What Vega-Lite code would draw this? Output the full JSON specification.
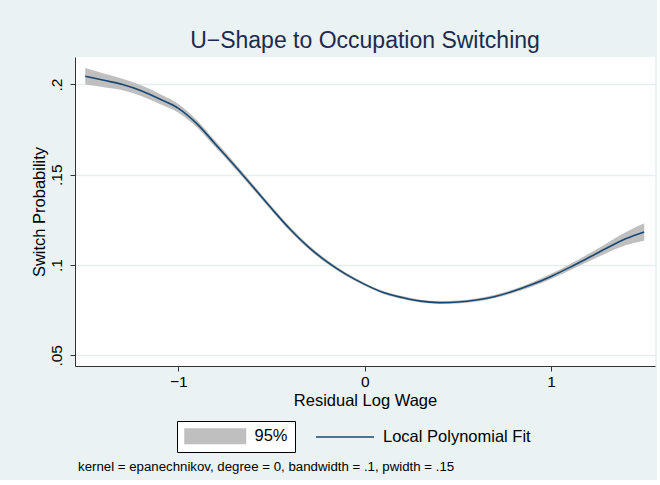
{
  "$schema": "https://vega.github.io/schema/vega-lite/v6.json",
  "background": "#eaf2f3",
  "padding": {"left": 31, "top": 30, "right": 2, "bottom": 6},
  "config": {
    "font": "Liberation Sans",
    "view": {"stroke": null, "fill": "white"},
    "concat": {"spacing": 0}
  },
  "title": {
    "text": "kernel = epanechnikov, degree = 0, bandwidth = .1, pwidth = .15",
    "orient": "bottom",
    "anchor": "start",
    "frame": "group",
    "fontSize": 13.25,
    "fontWeight": "normal",
    "color": "#000000",
    "offset": 8,
    "dx": 3
  },
  "vconcat": [
    {
      "width": 580,
      "height": 309,
      "title": {
        "text": "U−Shape to Occupation Switching",
        "fontSize": 23,
        "fontWeight": "normal",
        "color": "#1c2b4e",
        "anchor": "middle",
        "frame": "group",
        "baseline": "bottom",
        "offset": -19
      },
      "data": {
        "values": [
          {"x": -1.5, "y": 0.2046, "lo": 0.2000, "hi": 0.2092},
          {"x": -1.4, "y": 0.2023, "lo": 0.1985, "hi": 0.2061},
          {"x": -1.3, "y": 0.2000, "lo": 0.1968, "hi": 0.2032},
          {"x": -1.2, "y": 0.1966, "lo": 0.1936, "hi": 0.1996},
          {"x": -1.1, "y": 0.1920, "lo": 0.1892, "hi": 0.1948},
          {"x": -1.0, "y": 0.1868, "lo": 0.1844, "hi": 0.1892},
          {"x": -0.9, "y": 0.1782, "lo": 0.1762, "hi": 0.1802},
          {"x": -0.8, "y": 0.1668, "lo": 0.1651, "hi": 0.1685},
          {"x": -0.7, "y": 0.1553, "lo": 0.1538, "hi": 0.1568},
          {"x": -0.6, "y": 0.1434, "lo": 0.1420, "hi": 0.1448},
          {"x": -0.5, "y": 0.1313, "lo": 0.1300, "hi": 0.1326},
          {"x": -0.4, "y": 0.1198, "lo": 0.1186, "hi": 0.1210},
          {"x": -0.3, "y": 0.1098, "lo": 0.1087, "hi": 0.1109},
          {"x": -0.2, "y": 0.1016, "lo": 0.1006, "hi": 0.1026},
          {"x": -0.1, "y": 0.0948, "lo": 0.0939, "hi": 0.0957},
          {"x": 0.0, "y": 0.0893, "lo": 0.0885, "hi": 0.0901},
          {"x": 0.1, "y": 0.0848, "lo": 0.0840, "hi": 0.0856},
          {"x": 0.2, "y": 0.0820, "lo": 0.0812, "hi": 0.0828},
          {"x": 0.3, "y": 0.0800, "lo": 0.0792, "hi": 0.0808},
          {"x": 0.4, "y": 0.0792, "lo": 0.0784, "hi": 0.0800},
          {"x": 0.5, "y": 0.0795, "lo": 0.0787, "hi": 0.0803},
          {"x": 0.6, "y": 0.0806, "lo": 0.0798, "hi": 0.0814},
          {"x": 0.7, "y": 0.0826, "lo": 0.0817, "hi": 0.0835},
          {"x": 0.8, "y": 0.0856, "lo": 0.0846, "hi": 0.0866},
          {"x": 0.9, "y": 0.0893, "lo": 0.0881, "hi": 0.0905},
          {"x": 1.0, "y": 0.0937, "lo": 0.0923, "hi": 0.0951},
          {"x": 1.1, "y": 0.0987, "lo": 0.0970, "hi": 0.1004},
          {"x": 1.2, "y": 0.1040, "lo": 0.1019, "hi": 0.1061},
          {"x": 1.3, "y": 0.1094, "lo": 0.1067, "hi": 0.1121},
          {"x": 1.4, "y": 0.1145, "lo": 0.1109, "hi": 0.1181},
          {"x": 1.5, "y": 0.1183, "lo": 0.1135, "hi": 0.1231}
        ]
      },
      "encoding": {
        "x": {
          "field": "x",
          "type": "quantitative",
          "scale": {"domain": [-1.555, 1.558], "nice": false, "zero": false},
          "axis": {
            "title": "Residual Log Wage",
            "values": [-1, 0, 1],
            "format": "d",
            "grid": false,
            "labelFontSize": 15.5,
            "labelColor": "#000000",
            "labelPadding": 3,
            "tickSize": 5,
            "tickColor": "#333333",
            "domainColor": "#333333",
            "titleFontSize": 16.5,
            "titleFontWeight": "normal",
            "titleColor": "#000000",
            "titlePadding": 2.5
          }
        }
      },
      "layer": [
        {
          "mark": {"type": "area", "interpolate": "monotone", "opacity": 1},
          "encoding": {
            "y": {
              "field": "lo",
              "type": "quantitative",
              "scale": {"domain": [0.04407, 0.21523], "nice": false, "zero": false},
              "axis": {
                "title": "Switch Probability",
                "values": [0.05, 0.1, 0.15, 0.2],
                "labelExpr": "replace(format(datum.value, '.2~f'), '0.', '.')",
                "labelAngle": -90,
                "labelAlign": "center",
                "labelBaseline": "bottom",
                "labelFontSize": 15.5,
                "labelColor": "#000000",
                "labelPadding": 6,
                "tickSize": 5,
                "tickColor": "#333333",
                "domainColor": "#333333",
                "grid": true,
                "gridColor": "#e6eff0",
                "gridWidth": 1.5,
                "titleFontSize": 16.5,
                "titleFontWeight": "normal",
                "titleColor": "#000000",
                "titlePadding": 2
              }
            },
            "y2": {"field": "hi"},
            "fill": {
              "datum": "95%",
              "type": "nominal",
              "scale": {"domain": ["95%"], "range": ["#bfbfbf"]},
              "legend": {
                "orient": "none",
                "legendX": 102,
                "legendY": 364,
                "direction": "horizontal",
                "title": "\u00a0\u00a0\u00a0\u00a0\u00a0\u00a0\u00a0\u00a0\u00a0\u00a0\u00a0\u00a0\u00a0\u00a0\u00a0\u00a0\u00a0\u00a0\u00a0\u00a0\u00a0\u00a0\u00a0\u00a0\u00a0\u00a0\u00a0\u00a0\u00a0\u00a0\u00a0\u00a0\u00a0\u00a0\u00a0\u00a0\u00a0\u00a0\u00a0\u00a0\u00a0\u00a0\u00a0\u00a0\u00a0\u00a0\u00a0\u00a0\u00a0\u00a0\u00a0\u00a0\u00a0\u00a0\u00a0\u00a0\u00a0",
                "titleOrient": "right",
                "titleFontSize": 16.5,
                "titleFontWeight": "normal",
                "titlePadding": 0,
                "titleLimit": 600,
                "strokeColor": "#000000",
                "fillColor": "#ffffff",
                "padding": 7,
                "labelFontSize": 16.5,
                "labelColor": "#000000",
                "labelOffset": 54,
                "labelLimit": 600,
                "symbolSize": 256,
                "symbolType": "M-1,-1H6.75V1H-1Z",
                "symbolStrokeWidth": 0
              }
            }
          }
        },
        {
          "mark": {"type": "line", "interpolate": "monotone", "strokeWidth": 1.6},
          "encoding": {
            "y": {
              "field": "y",
              "type": "quantitative",
              "axis": {"title": "Switch Probability"}
            },
            "stroke": {
              "datum": "Local Polynomial Fit",
              "type": "nominal",
              "scale": {"domain": ["Local Polynomial Fit"], "range": ["#1a476f"]},
              "legend": {
                "orient": "none",
                "legendX": 233,
                "legendY": 364,
                "direction": "horizontal",
                "title": null,
                "padding": 7,
                "labelFontSize": 16.5,
                "labelColor": "#000000",
                "labelOffset": 50,
                "labelLimit": 500,
                "symbolSize": 256,
                "symbolType": "M-1,0H6.25",
                "symbolStrokeWidth": 1.6
              }
            }
          }
        }
      ]
    }
  ]
}
